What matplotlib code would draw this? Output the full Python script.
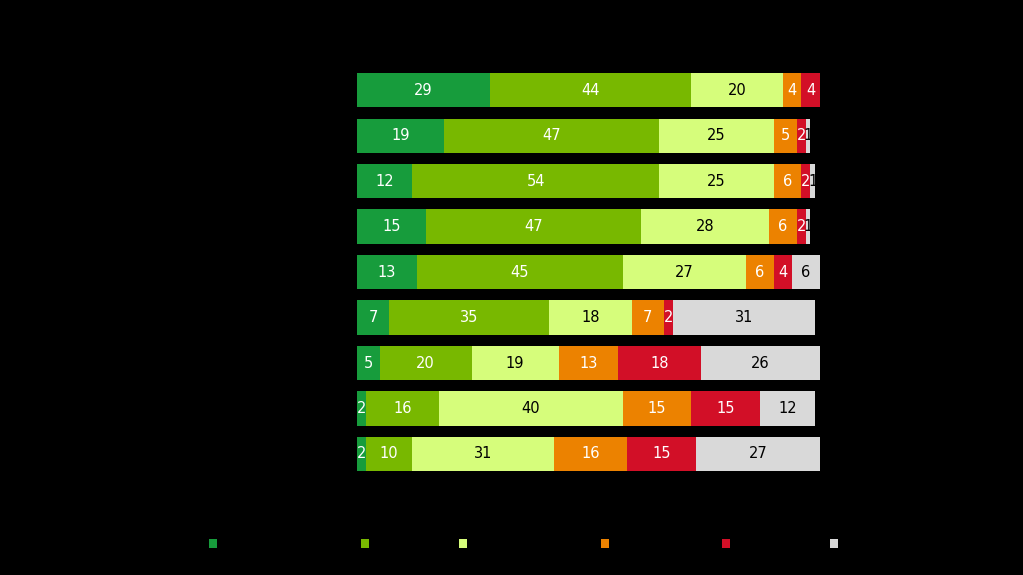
import numpy as np
import matplotlib.pyplot as plt
from matplotlib.patches import Rectangle

# one row per bar, top to bottom (shown values, rounded %)
very_good = [29, 19, 12, 15, 13, 7, 5, 2, 2]
good = [44, 47, 54, 47, 45, 35, 20, 16, 10]
fair = [20, 25, 25, 28, 27, 18, 19, 40, 31]
poor = [4, 5, 6, 6, 6, 7, 13, 15, 16]
very_poor = [4, 2, 2, 2, 4, 2, 18, 15, 15]
dont_know = [0, 1, 1, 1, 6, 31, 26, 12, 27]

series = [very_good, good, fair, poor, very_poor, dont_know]
colors = ['#179c3c', '#78b800', '#d6fd7b', '#ec8200', '#d20f27', '#d9d9d9']
text_colors = ['white', 'white', 'black', 'white', 'white', 'black']

fig = plt.figure(figsize=(10.23, 5.75), dpi=100)
fig.patch.set_facecolor('black')
ax = fig.add_axes([357 / 1023, 0.1709, 462.6 / 1023, 0.712])
ax.set_facecolor('black')

y = np.arange(len(very_good))
left = np.zeros(len(very_good))
for vals, col, tcol in zip(series, colors, text_colors):
    vals = np.array(vals)
    ax.barh(y, vals, left=left, height=0.75, color=col, linewidth=0)
    for yi, (l, v) in enumerate(zip(left, vals)):
        if v > 0:
            ax.text(l + v / 2, yi, str(v), ha='center', va='center',
                    color=tcol, fontsize=10.5)
    left += vals

ax.set_xlim(0, 101)
ax.set_ylim(len(y) - 0.5, -0.5)
ax.axis('off')

# legend squares (label text is black on black in the original)
for xp, col in zip([213, 365, 463, 605, 726, 834], colors):
    fig.patches.append(Rectangle(((xp - 4) / 1023, (575 - 548) / 575), 8 / 1023, 9 / 575,
                                 transform=fig.transFigure, facecolor=col,
                                 edgecolor='none'))

fig.savefig('out.png', dpi=100, facecolor=fig.get_facecolor())
